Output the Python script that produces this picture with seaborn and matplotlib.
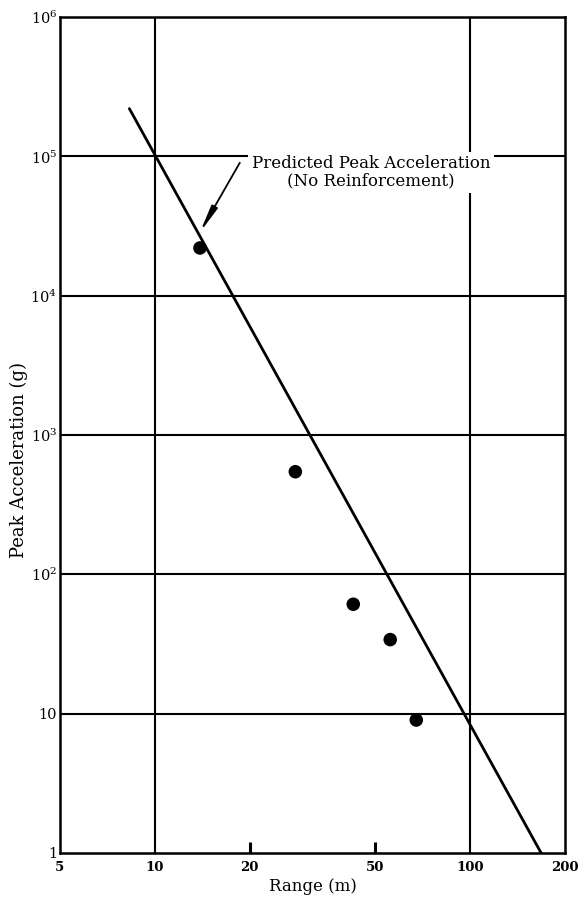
import matplotlib
matplotlib.use("Agg")
import matplotlib.pyplot as plt
import seaborn as sns
import pandas as pd

# Data
range_m = [13.9, 27.9, 42.6, 55.8, 67.5]
peak_acc = [2.2e4, 545, 61, 34, 9.0]

pred_range = [8.3, 168]
pred_acc = [2.2e5, 1.0]

x_ticks = [5, 10, 20, 50, 100, 200]
x_labels = ["5", "10", "20", "50", "100", "200"]
y_ticks = [1, 10, 1e2, 1e3, 1e4, 1e5, 1e6]
y_labels = ["1", "10", r"$10^{2}$", r"$10^{3}$", r"$10^{4}$", r"$10^{5}$", r"$10^{6}$"]
x_grid = [10, 100]
y_grid = [10, 1e2, 1e3, 1e4, 1e5]
minor_x = [20, 50]

annot_text = "Predicted Peak Acceleration\n(No Reinforcement)"
annot_pos = (48.5, 7.7e4)
arrow_start = (18.6, 9.0e4)
arrow_tip = (13.9, 2.85e4)

sns.set_style("white")
plt.rcParams["font.family"] = ["DejaVu Serif"]
plt.rcParams["mathtext.fontset"] = "dejavuserif"
for k in ["text.color", "axes.labelcolor", "xtick.color", "ytick.color"]:
    plt.rcParams[k] = "black"

fig = plt.figure(figsize=(5.8, 9.01), dpi=100)
ax = fig.add_axes([0.1034, 0.0533, 0.8707, 0.9278])

ax.set_xscale("log")
ax.set_yscale("log")

for g in x_grid:
    ax.axvline(g, color="black", lw=1.5, zorder=1)
for g in y_grid:
    ax.axhline(g, color="black", lw=1.5, zorder=1)

df_line = pd.DataFrame({"x": pred_range, "y": pred_acc})
sns.lineplot(data=df_line, x="x", y="y", ax=ax, color="black", lw=2.0, zorder=3)

df_pts = pd.DataFrame({"x": range_m, "y": peak_acc})
sns.scatterplot(data=df_pts, x="x", y="y", ax=ax, color="black", s=95,
                edgecolor="none", zorder=4)

ax.set_xlim(5, 200)
ax.set_ylim(1, 1e6)

ax.xaxis.remove_overlapping_locs = False
ax.set_xticks(x_ticks)
ax.set_xticklabels(x_labels, fontsize=9.5, fontweight="bold")
ax.set_xticks(minor_x, minor=True)
ax.set_yticks(y_ticks)
ax.set_yticklabels(y_labels, fontsize=10.5)
ax.set_yticks([], minor=True)
ax.tick_params(axis="x", which="major", length=0, pad=6)
ax.tick_params(axis="y", which="major", length=0, pad=2)
ax.tick_params(axis="x", which="minor", bottom=True, direction="in", length=8,
               width=2.2, color="black", labelbottom=False)

for sp in ax.spines.values():
    sp.set_color("black")
    sp.set_linewidth(1.8)

ax.set_xlabel("Range (m)", fontsize=12, labelpad=3)
ax.set_ylabel("Peak Acceleration (g)", fontsize=13)
ax.yaxis.set_label_coords(-0.064, 0.47)

ax.text(annot_pos[0], annot_pos[1], annot_text, ha="center", va="center",
        multialignment="center", fontsize=12, linespacing=1.05,
        bbox=dict(boxstyle="square,pad=0.2", fc="white", ec="none"), zorder=5)
ax.annotate("", xy=arrow_tip, xytext=arrow_start,
            arrowprops=dict(arrowstyle="-|>,head_length=1.6,head_width=0.2",
                            color="black", lw=1.3, shrinkA=0, shrinkB=0),
            zorder=5)

fig.savefig("out.png", dpi=100)
